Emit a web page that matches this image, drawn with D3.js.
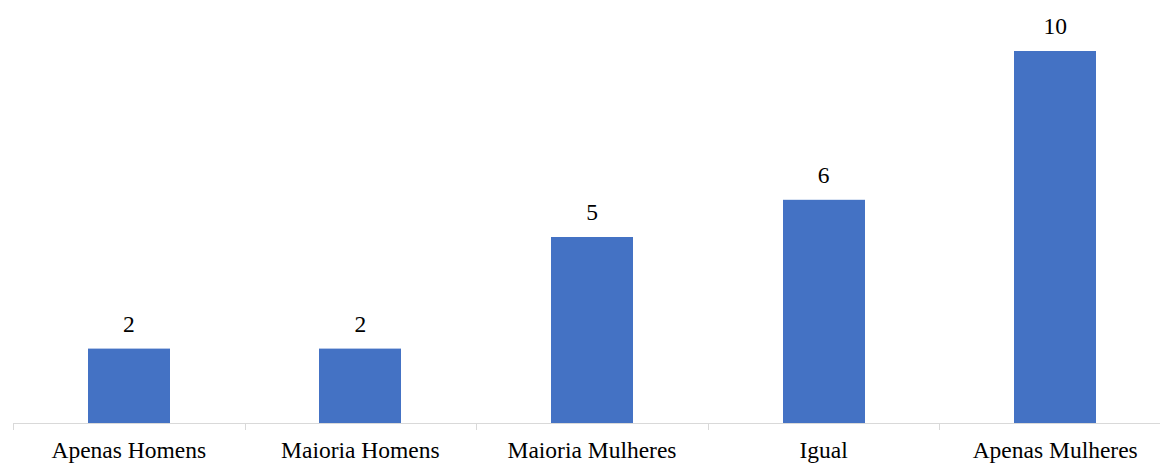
<!DOCTYPE html>
<html>
<head>
<meta charset="utf-8">
<script src="https://cdn.jsdelivr.net/npm/d3@7"></script>
<style>
  body { margin: 0; background: #fff; }
</style>
</head>
<body>
<svg id="chart"></svg>
<script>
// chart data
var categories = ["Apenas Homens", "Maioria Homens", "Maioria Mulheres", "Igual", "Apenas Mulheres"];
var values = [2, 2, 5, 6, 10];

var width = 1160,
    height = 463,
    baseline = 423,
    fontSize = 23.5,
    fontFamily = "'Liberation Serif', 'Times New Roman', serif",
    color = "#4472C4";

var svg = d3.select("#chart")
    .attr("width", width)
    .attr("height", height)
    .style("font-family", fontFamily);

// each category gets a ~231.6px slot starting at x=13
var x = d3.scaleBand()
    .domain(categories)
    .range([13, 13 + 231.6 * categories.length])
    .padding(0);

var barWidth = 82;

var y = d3.scaleLinear()
    .domain([0, 10])
    .range([baseline, 51]);

// bars
svg.selectAll("rect.bar")
    .data(values)
    .enter()
    .append("rect")
    .attr("class", "bar")
    .attr("x", function(d, i) { return Math.round(x(categories[i]) + x.bandwidth() / 2 - barWidth / 2); })
    .attr("y", function(d) { return y(d); })
    .attr("width", barWidth)
    .attr("height", function(d) { return y(0) - y(d); })
    .attr("fill", color);

// x axis: light grey line with ticks between categories
var axis = svg.append("g").attr("class", "x-axis");
axis.append("line")
    .attr("x1", x.range()[0]).attr("x2", x.range()[1])
    .attr("y1", baseline + 0.5).attr("y2", baseline + 0.5)
    .attr("stroke", "#d9d9d9").attr("stroke-width", 1);

axis.selectAll("line.tick")
    .data(categories)
    .enter()
    .append("line")
    .attr("class", "tick")
    .attr("x1", function(d) { return Math.round(x(d)) + 0.5; })
    .attr("x2", function(d) { return Math.round(x(d)) + 0.5; })
    .attr("y1", baseline)
    .attr("y2", baseline + 7)
    .attr("stroke", "#d9d9d9");

axis.selectAll("text")
    .data(categories)
    .enter()
    .append("text")
    .attr("x", function(d) { return x(d) + x.bandwidth() / 2; })
    .attr("y", 458)
    .attr("text-anchor", "middle")
    .style("font-family", fontFamily)
    .style("font-size", fontSize + "px")
    .attr("fill", "#000")
    .text(function(d) { return d; });

// value labels above bars
svg.selectAll("text.value")
    .data(values)
    .enter()
    .append("text")
    .attr("class", "value")
    .attr("x", function(d, i) { return x(categories[i]) + x.bandwidth() / 2; })
    .attr("y", function(d) { return y(d) - 17; })
    .attr("text-anchor", "middle")
    .style("font-family", fontFamily)
    .style("font-size", fontSize + "px")
    .attr("fill", "#000")
    .text(function(d) { return d; });
</script>
</body>
</html>
